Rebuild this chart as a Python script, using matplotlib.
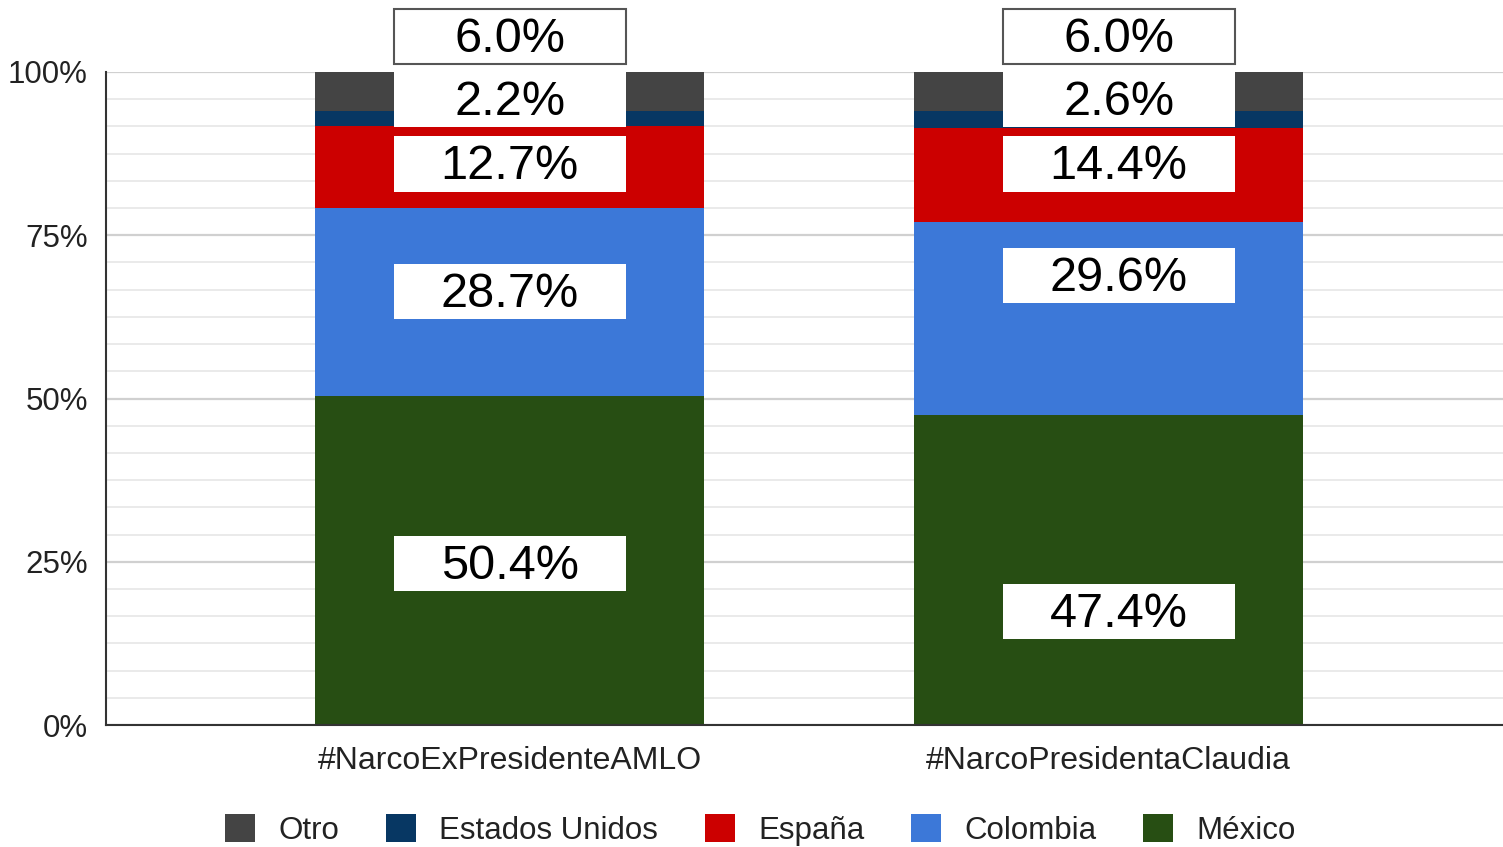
import numpy as np
import matplotlib.pyplot as plt
from matplotlib.patches import Rectangle

plt.rcParams['font.family'] = ['Liberation Sans', 'DejaVu Sans']

hashtags = ['#NarcoExPresidenteAMLO', '#NarcoPresidentaClaudia']
series = ['México', 'Colombia', 'España', 'Estados Unidos', 'Otro']
mexico = [50.4, 47.4]
colombia = [28.7, 29.6]
espana = [12.7, 14.4]
eeuu = [2.2, 2.6]
otro = [6.0, 6.0]
colores = ['#274e13', '#3c78d8', '#cc0000', '#073763', '#444444']

# donde van las cajitas con los porcentajes (centro en % del eje)
pos_etiquetas = [
    [24.7, 66.4, 85.9, 95.8, 105.4],
    [17.4, 68.8, 85.9, 95.8, 105.4],
]
x_cajas = [0.0, 1.0176]

valores = [mexico, colombia, espana, eeuu, otro]

fig = plt.figure(figsize=(15.03, 8.47), dpi=100)
ax = fig.add_axes([0.0705, 0.144, 0.9295, 0.771])

x = np.arange(len(hashtags))
base = np.zeros(len(hashtags))
barras = {}
for nombre, vals, col in zip(series, valores, colores):
    barras[nombre] = ax.bar(x, vals, bottom=base, width=0.65, color=col, zorder=2)
    base += np.array(vals)

ax.set_xlim(-0.675, 1.66)
ax.set_ylim(0, 100)

# gridlines: mayores cada 25, menores cada 25/6
ax.set_yticks([0, 25, 50, 75, 100])
ax.set_yticklabels(['0%', '25%', '50%', '75%', '100%'])
ax.set_yticks(np.linspace(0, 100, 25), minor=True)
ax.grid(which='major', axis='y', color='#d0d0d0', linewidth=1.6, zorder=0)
ax.grid(which='minor', axis='y', color='#e6e6e6', linewidth=1.2, zorder=0)
ax.tick_params(axis='y', which='both', length=0, labelsize=22.5, pad=13, labelcolor='#222222')
ax.set_xticks(x)
ax.set_xticklabels(hashtags)
ax.tick_params(axis='x', length=0, labelsize=23, pad=15, labelcolor='#222222')

for s in ['top', 'right']:
    ax.spines[s].set_visible(False)
ax.spines['left'].set_color('#333333')
ax.spines['bottom'].set_color('#333333')
ax.spines['left'].set_linewidth(1.5)
ax.spines['bottom'].set_linewidth(1.5)

# cajitas blancas con el valor
alto, ancho = 8.5, 0.388
for i in range(len(hashtags)):
    for j, vals in enumerate(valores):
        yc = pos_etiquetas[i][j]
        borde = '#555555' if j == 4 else 'none'
        ax.add_patch(Rectangle((x_cajas[i] - ancho / 2, yc - alto / 2), ancho, alto,
                               facecolor='white', edgecolor=borde, linewidth=1.5,
                               zorder=4, clip_on=False))
        ax.text(x_cajas[i], yc - 0.4, f'{vals[i]:.1f}%', ha='center', va='center',
                fontsize=35, color='black', zorder=5, clip_on=False)

orden = ['Otro', 'Estados Unidos', 'España', 'Colombia', 'México']
fig.legend([barras[n] for n in orden], orden, loc='center', ncol=5,
           bbox_to_anchor=(0.506, 0.02), frameon=False, fontsize=22.5,
           handlelength=0.95, handleheight=1.0, handletextpad=0.75,
           columnspacing=1.5, labelcolor='#222222')

fig.savefig('out.png', dpi=100)
